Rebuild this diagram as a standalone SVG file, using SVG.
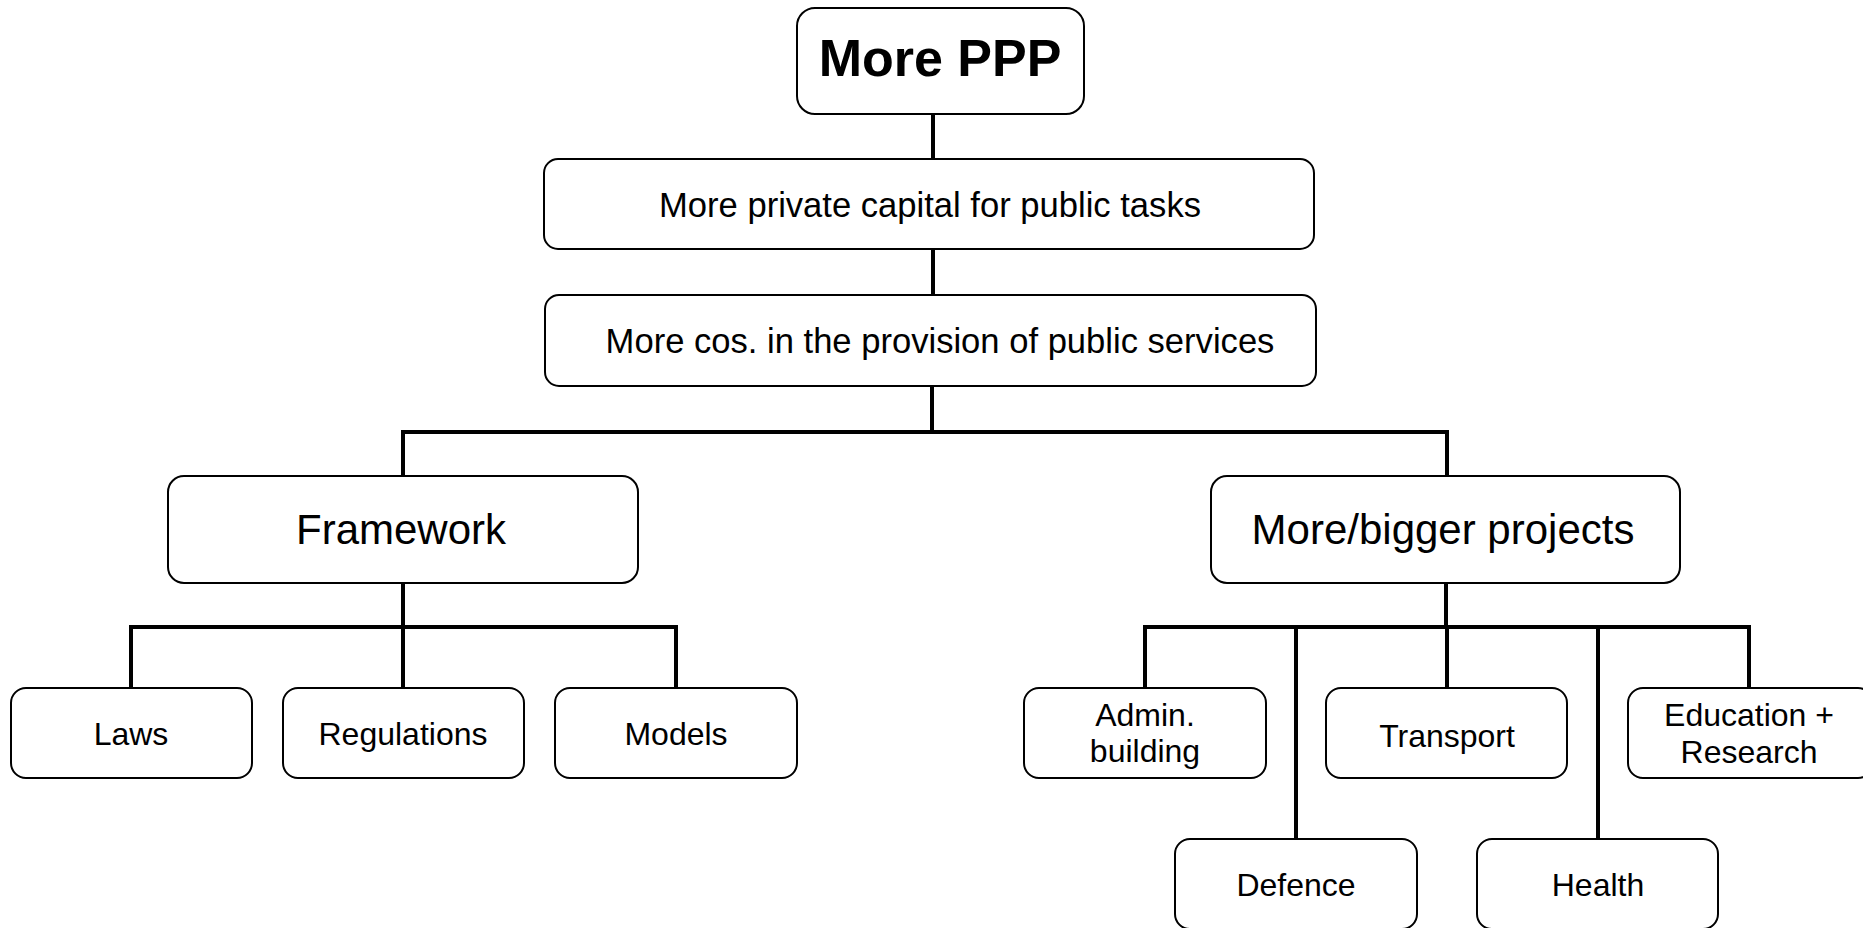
<svg xmlns="http://www.w3.org/2000/svg" width="1863" height="928" viewBox="0 0 1863 928">
  <style>
    .box { fill: #ffffff; stroke: #000000; stroke-width: 2; }
    .lbl { font-family: "Liberation Sans", Arial, sans-serif; fill: #000000; text-anchor: middle; }
    .title { font-size: 52px; font-weight: bold; }
    .mid { font-size: 34.6px; }
    .big { font-size: 42px; }
    .small { font-size: 32px; }
    .wire { fill: none; stroke: #000000; stroke-width: 4; stroke-linecap: square; stroke-linejoin: miter; }
  </style>
  <rect width="1863" height="928" fill="#ffffff"/>

  <!-- connectors -->
  <g id="connectors">
    <line class="wire" x1="933" y1="115" x2="933" y2="158"/>
    <line class="wire" x1="933" y1="251" x2="933" y2="294"/>
    <line class="wire" x1="932" y1="387" x2="932" y2="432"/>
    <polyline class="wire" points="403,476 403,432 1447,432 1447,476"/>
    <!-- framework branch -->
    <line class="wire" x1="403" y1="584" x2="403" y2="627"/>
    <polyline class="wire" points="131,687 131,627 676,627 676,687"/>
    <line class="wire" x1="403" y1="627" x2="403" y2="687"/>
    <!-- projects branch -->
    <line class="wire" x1="1446" y1="584" x2="1446" y2="627"/>
    <polyline class="wire" points="1145,687 1145,627 1749,627 1749,687"/>
    <line class="wire" x1="1296" y1="627" x2="1296" y2="838"/>
    <line class="wire" x1="1447" y1="627" x2="1447" y2="687"/>
    <line class="wire" x1="1598" y1="627" x2="1598" y2="838"/>
  </g>

  <g id="more-ppp">
    <rect class="box" x="797" y="8" width="287" height="106" rx="18"/>
    <text class="lbl title" x="940" y="76">More PPP</text>
  </g>

  <g id="private-capital">
    <rect class="box" x="544" y="159" width="770" height="90" rx="14"/>
    <text class="lbl mid" x="930" y="217">More private capital for public tasks</text>
  </g>

  <g id="public-services">
    <rect class="box" x="545" y="295" width="771" height="91" rx="14"/>
    <text class="lbl mid" x="940" y="353">More cos. in the provision of public services</text>
  </g>

  <g id="framework">
    <rect class="box" x="168" y="476" width="470" height="107" rx="16"/>
    <text class="lbl big" x="401" y="544">Framework</text>
  </g>

  <g id="projects">
    <rect class="box" x="1211" y="476" width="469" height="107" rx="16"/>
    <text class="lbl big" x="1443" y="544">More/bigger projects</text>
  </g>

  <g id="laws">
    <rect class="box" x="11" y="688" width="241" height="90" rx="15"/>
    <text class="lbl small" x="131" y="745">Laws</text>
  </g>

  <g id="regulations">
    <rect class="box" x="283" y="688" width="241" height="90" rx="15"/>
    <text class="lbl small" x="403" y="745">Regulations</text>
  </g>

  <g id="models">
    <rect class="box" x="555" y="688" width="242" height="90" rx="15"/>
    <text class="lbl small" x="676" y="745">Models</text>
  </g>

  <g id="admin-building">
    <rect class="box" x="1024" y="688" width="242" height="90" rx="15"/>
    <text class="lbl small" x="1145" y="726">Admin.</text>
    <text class="lbl small" x="1145" y="762">building</text>
  </g>

  <g id="transport">
    <rect class="box" x="1326" y="688" width="241" height="90" rx="15"/>
    <text class="lbl small" x="1447" y="747">Transport</text>
  </g>

  <g id="education-research">
    <rect class="box" x="1628" y="688" width="245" height="90" rx="15"/>
    <text class="lbl small" x="1749" y="726">Education +</text>
    <text class="lbl small" x="1749" y="763">Research</text>
  </g>

  <g id="defence">
    <rect class="box" x="1175" y="839" width="242" height="90" rx="15"/>
    <text class="lbl small" x="1296" y="896">Defence</text>
  </g>

  <g id="health">
    <rect class="box" x="1477" y="839" width="241" height="90" rx="15"/>
    <text class="lbl small" x="1598" y="896">Health</text>
  </g>
</svg>
